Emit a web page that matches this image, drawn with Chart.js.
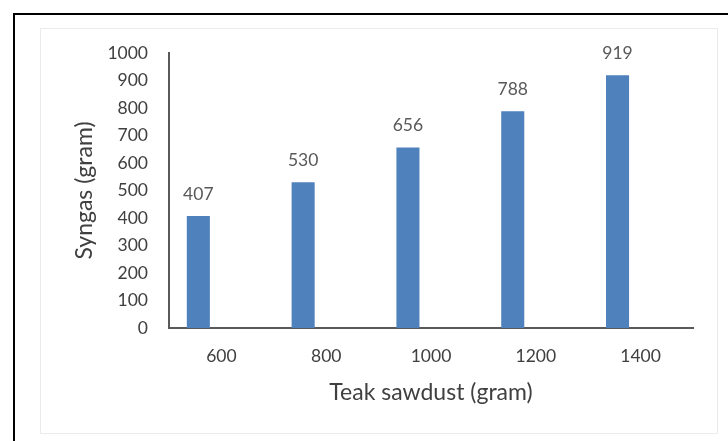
<!DOCTYPE html>
<html>
<head>
<meta charset="utf-8">
<script src="https://cdn.jsdelivr.net/npm/chart.js@4"></script>
<style>
  html, body { margin: 0; padding: 0; background: #fff; overflow: hidden; }
  #wrap { position: relative; width: 728px; height: 441px; }
  #frame { position: absolute; left: 13px; top: 13px; width: 800px; height: 500px;
           border-left: 2px solid #000; border-top: 2px solid #000; }
  #inner { position: absolute; left: 40px; top: 28px; width: 676px; height: 404px;
           border: 1px solid #ebebeb; }
  #chart { position: absolute; left: 0; top: 0; }
</style>
</head>
<body>
<div id="wrap">
  <div id="frame"></div>
  <div id="inner"></div>
  <canvas id="chart" width="728" height="441"></canvas>
</div>
<script>
// Teak sawdust input vs. syngas output
const sawdust = ['600', '800', '1000', '1200', '1400'];
const syngas = [407, 530, 656, 788, 919];
// Excel sheet had two more (empty) series, which pushes the bars left of the tick
const emptySeries = [null, null, null, null, null];

const FONT = 'Lato, "Open Sans", sans-serif';

// values above the bars (no datalabels plugin offline)
const barLabels = {
  id: 'barLabels',
  afterDatasetsDraw(chart) {
    const ctx = chart.ctx;
    const meta = chart.getDatasetMeta(0);
    ctx.save();
    ctx.font = '17.5px ' + FONT;
    ctx.fillStyle = '#595959';
    ctx.textAlign = 'center';
    ctx.textBaseline = 'middle';
    meta.data.forEach((bar, i) => {
      ctx.fillText(String(syngas[i]), bar.x, bar.y - 22);
    });
    ctx.restore();
  }
};

new Chart(document.getElementById('chart'), {
  type: 'bar',
  data: {
    labels: sawdust,
    datasets: [
      { label: 'Syngas', data: syngas, backgroundColor: '#4f81bd' },
      { label: '', data: emptySeries },
      { label: '', data: emptySeries },
    ]
  },
  options: {
    responsive: false,
    animation: false,
    categoryPercentage: 0.66,
    barPercentage: 1,
    layout: { padding: { left: 0, right: 35, top: 53, bottom: 0 } },
    plugins: { legend: { display: false }, tooltip: { enabled: false } },
    scales: {
      x: {
        grid: { display: false, drawTicks: false },
        border: { display: true, color: '#595959', width: 2 },
        ticks: { color: '#404040', font: { family: FONT, size: 17.5 }, padding: 18 },
        title: { display: true, text: 'Teak sawdust (gram)', color: '#404040',
                 font: { family: FONT, size: 23 }, padding: { top: 0, bottom: 35 } },
        afterFit(scale) { scale.height = 441 - 328; }
      },
      y: {
        min: 0, max: 1000,
        grid: { display: false, drawTicks: false },
        border: { display: true, color: '#595959', width: 2 },
        ticks: { stepSize: 100, color: '#404040', font: { family: FONT, size: 17.5 }, padding: 21,
                 callback: v => String(v) },
        title: { display: true, text: 'Syngas (gram)', color: '#404040',
                 font: { family: FONT, size: 23 }, padding: { top: 71, bottom: 0 } },
        afterFit(scale) { scale.width = 169; }
      }
    }
  },
  plugins: [barLabels]
});
</script>
</body>
</html>
